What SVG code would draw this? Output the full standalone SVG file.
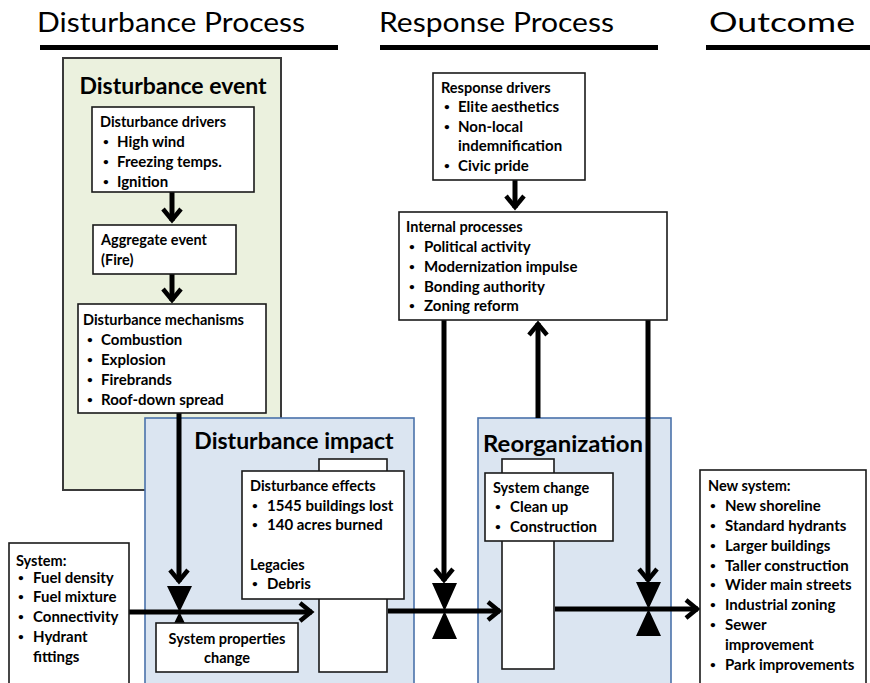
<svg xmlns="http://www.w3.org/2000/svg" width="870" height="683" viewBox="0 0 870 683">
<style>
text{font-family:Lato,"Liberation Sans",sans-serif;fill:#000}
.hd{font-size:26px;font-weight:normal}
.ttl{font-size:23px;font-weight:bold}
.t{font-size:15px;font-weight:bold}
.h{font-size:14.5px;font-weight:bold}
.b{font-size:10px;font-weight:bold}
.box{fill:#fff;stroke:#1a1a1a;stroke-width:1.6}
.green{fill:#ebf1de;stroke:#3a3a3a;stroke-width:2}
.blue{fill:#dbe5f1;stroke:#4a72ab;stroke-width:1.6}
.ln{stroke:#000;stroke-width:5;fill:none}
.ul{stroke:#000;stroke-width:5}
.valve{fill:#000}
</style>
<defs>
<marker id="chev" markerUnits="userSpaceOnUse" orient="auto" markerWidth="20" markerHeight="24" viewBox="-16 -12 20 24" refX="0" refY="0">
<path d="M -12 -9 L -1 0 L -12 9" fill="none" stroke="#000" stroke-width="4.5"/>
</marker>
</defs>
<rect width="870" height="683" fill="#fff"/>
<g id="headers">
<text class="hd" x="37" y="32" textLength="268" lengthAdjust="spacingAndGlyphs">Disturbance Process</text>
<line class="ul" x1="40" y1="47.5" x2="338" y2="47.5"/>
<text class="hd" x="379" y="32" textLength="235" lengthAdjust="spacingAndGlyphs">Response Process</text>
<line class="ul" x1="380" y1="47.5" x2="658" y2="47.5"/>
<text class="hd" x="709" y="32" textLength="146" lengthAdjust="spacingAndGlyphs">Outcome</text>
<line class="ul" x1="706" y1="47.5" x2="870" y2="47.5"/>
</g>
<g id="disturbance-event">
<rect class="green" x="63" y="58" width="218" height="432"/>
<text class="ttl" x="173" y="94" text-anchor="middle">Disturbance event</text>
</g>
<g id="disturbance-impact">
<rect class="blue" x="145" y="418" width="269" height="275"/>
<text class="ttl" x="294" y="449" text-anchor="middle">Disturbance impact</text>
</g>
<g id="reorganization">
<rect class="blue" x="478" y="418" width="193" height="275"/>
<text class="ttl" x="483" y="452" textLength="160" lengthAdjust="spacingAndGlyphs">Reorganization</text>
</g>
<g id="connectors">
<line class="ln" x1="172" y1="192" x2="172" y2="221" marker-end="url(#chev)"/>
<line class="ln" x1="172" y1="274" x2="172" y2="301" marker-end="url(#chev)"/>
<line class="ln" x1="515" y1="180" x2="515" y2="208" marker-end="url(#chev)"/>
<line class="ln" x1="179" y1="413" x2="179" y2="582" marker-end="url(#chev)"/>
<line class="ln" x1="444" y1="320" x2="444" y2="581" marker-end="url(#chev)"/>
<line class="ln" x1="648" y1="320" x2="648" y2="581" marker-end="url(#chev)"/>
<line class="ln" x1="538" y1="418" x2="538" y2="323" marker-end="url(#chev)"/>
<line class="ln" x1="129" y1="612" x2="312" y2="612" marker-end="url(#chev)"/>
<line class="ln" x1="388" y1="611" x2="500" y2="611" marker-end="url(#chev)"/>
<line class="ln" x1="555" y1="609" x2="698" y2="609" marker-end="url(#chev)"/>
<path class="valve" d="M167 586 L192 586 L179.5 612 Z M167 638 L192 638 L179.5 612 Z"/>
<path class="valve" d="M432 583 L457 583 L444.5 611 Z M432 639 L457 639 L444.5 611 Z"/>
<path class="valve" d="M636 582 L661 582 L648.5 609 Z M636 636 L661 636 L648.5 609 Z"/>
</g>
<g id="disturbance-drivers">
<rect class="box" x="92" y="107" width="162" height="85"/>
<text class="h" x="100" y="127">Disturbance drivers</text>
<text class="b" x="103" y="145">•</text><text class="t" x="117" y="147">High wind</text>
<text class="b" x="103" y="165">•</text><text class="t" x="117" y="167">Freezing temps.</text>
<text class="b" x="103" y="185">•</text><text class="t" x="117" y="187">Ignition</text>
</g>
<g id="aggregate-event">
<rect class="box" x="93" y="225" width="143" height="49"/>
<text class="h" x="101" y="245">Aggregate event</text>
<text class="h" x="101" y="265">(Fire)</text>
</g>
<g id="disturbance-mechanisms">
<rect class="box" x="78" y="304" width="188" height="109"/>
<text class="h" x="83" y="325">Disturbance mechanisms</text>
<text class="b" x="87" y="343">•</text><text class="t" x="101" y="345">Combustion</text>
<text class="b" x="87" y="363">•</text><text class="t" x="101" y="365">Explosion</text>
<text class="b" x="87" y="383">•</text><text class="t" x="101" y="385">Firebrands</text>
<text class="b" x="87" y="403">•</text><text class="t" x="101" y="405">Roof-down spread</text>
</g>
<g id="stock-1">
<rect class="box" x="319" y="459" width="68" height="213"/>
</g>
<g id="disturbance-effects">
<rect class="box" x="242" y="471" width="162" height="128"/>
<text class="h" x="250" y="491">Disturbance effects</text>
<text class="b" x="252" y="509">•</text><text class="t" x="267" y="511">1545 buildings lost</text>
<text class="b" x="252" y="528">•</text><text class="t" x="267" y="530">140 acres burned</text>
<text class="h" x="250" y="570">Legacies</text>
<text class="b" x="252" y="587">•</text><text class="t" x="267" y="589">Debris</text>
</g>
<g id="system-properties-change">
<rect class="box" x="156" y="623" width="142" height="49"/>
<text class="h" x="227" y="644" text-anchor="middle">System properties</text>
<text class="h" x="227" y="663" text-anchor="middle">change</text>
</g>
<g id="stock-2">
<rect class="box" x="502" y="459" width="52" height="210"/>
</g>
<g id="system-change">
<rect class="box" x="485" y="473" width="128" height="68"/>
<text class="h" x="493" y="493">System change</text>
<text class="b" x="495" y="510">•</text><text class="t" x="510" y="512">Clean up</text>
<text class="b" x="495" y="530">•</text><text class="t" x="510" y="532">Construction</text>
</g>
<g id="response-drivers">
<rect class="box" x="433" y="73" width="152" height="107"/>
<text class="h" x="441" y="93">Response drivers</text>
<text class="b" x="444" y="110">•</text><text class="t" x="458" y="112">Elite aesthetics</text>
<text class="b" x="444" y="130">•</text><text class="t" x="458" y="132">Non-local</text>
<text class="t" x="458" y="151">indemnification</text>
<text class="b" x="444" y="169">•</text><text class="t" x="458" y="171">Civic pride</text>
</g>
<g id="internal-processes">
<rect class="box" x="399" y="212" width="268" height="108"/>
<text class="h" x="406" y="232">Internal processes</text>
<text class="b" x="409" y="250">•</text><text class="t" x="424" y="252">Political activity</text>
<text class="b" x="409" y="270">•</text><text class="t" x="424" y="272">Modernization impulse</text>
<text class="b" x="409" y="290">•</text><text class="t" x="424" y="292">Bonding authority</text>
<text class="b" x="409" y="309">•</text><text class="t" x="424" y="311">Zoning reform</text>
</g>
<g id="system">
<rect class="box" x="9" y="543" width="120" height="150"/>
<text class="h" x="16" y="566">System:</text>
<text class="b" x="18" y="581">•</text><text class="t" x="33" y="583">Fuel density</text>
<text class="b" x="18" y="600">•</text><text class="t" x="33" y="602">Fuel mixture</text>
<text class="b" x="18" y="620">•</text><text class="t" x="33" y="622">Connectivity</text>
<text class="b" x="18" y="640">•</text><text class="t" x="33" y="642">Hydrant</text>
<text class="t" x="33" y="662">fittings</text>
</g>
<g id="new-system">
<rect class="box" x="700" y="470" width="166" height="223"/>
<text class="h" x="708" y="491">New system:</text>
<text class="b" x="710" y="509">•</text><text class="t" x="725" y="511">New shoreline</text>
<text class="b" x="710" y="529">•</text><text class="t" x="725" y="531">Standard hydrants</text>
<text class="b" x="710" y="549">•</text><text class="t" x="725" y="551">Larger buildings</text>
<text class="b" x="710" y="569">•</text><text class="t" x="725" y="571">Taller construction</text>
<text class="b" x="710" y="588">•</text><text class="t" x="725" y="590">Wider main streets</text>
<text class="b" x="710" y="608">•</text><text class="t" x="725" y="610">Industrial zoning</text>
<text class="b" x="710" y="628">•</text><text class="t" x="725" y="630">Sewer</text>
<text class="t" x="725" y="650">improvement</text>
<text class="b" x="710" y="668">•</text><text class="t" x="725" y="670">Park improvements</text>
</g>
</svg>
